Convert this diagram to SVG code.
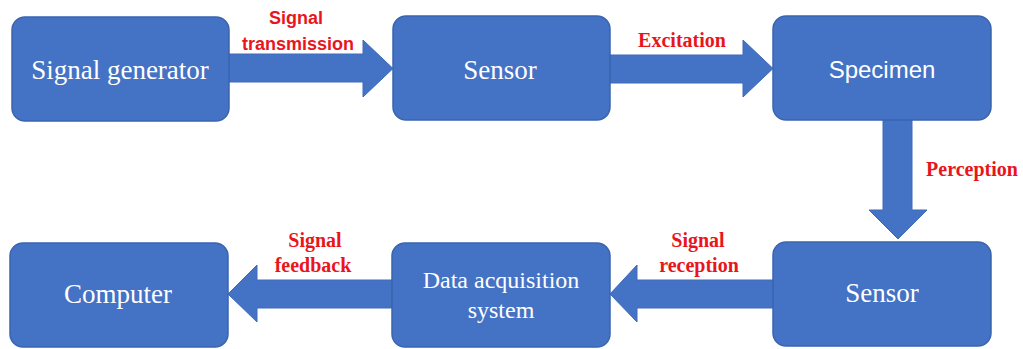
<svg xmlns="http://www.w3.org/2000/svg" width="1023" height="349" viewBox="0 0 1023 349">
<style>
.box{fill:#4472C4;stroke:#3A64B0;stroke-width:1.5}
.arr{fill:#4472C4;stroke:#3F6AB8;stroke-width:1}
.t{fill:#FFFFFF;font-family:"Liberation Serif","Times New Roman",serif;font-size:27px;text-anchor:middle}
.ts{fill:#FFFFFF;font-family:"Liberation Sans",Arial,sans-serif;font-size:24px;text-anchor:middle}
.lb{fill:#E8161C;font-family:"Liberation Serif","Times New Roman",serif;font-weight:bold;font-size:20px;text-anchor:middle}
.lbs{fill:#E8161C;font-family:"Liberation Sans",Arial,sans-serif;font-weight:bold;font-size:18px;text-anchor:middle}
</style>
<rect width="1023" height="349" fill="#FFFFFF"/>
<g id="connectors">
  <g id="c1"><path class="arr" d="M229,54 H363 V40 L393,68.5 L363,97 V82 H229 Z"/>
    <text class="lbs" x="296" y="24">Signal</text><text class="lbs" x="298" y="50">transmission</text></g>
  <g id="c2"><path class="arr" d="M610,55 H743 V40 L773,68.5 L743,97 V83 H610 Z"/>
    <text class="lb" x="682" y="47">Excitation</text></g>
  <g id="c3"><path class="arr" d="M883,120 H912 V210 H927 L898,239 L869,210 H883 Z"/>
    <text class="lb" x="972" y="176">Perception</text></g>
  <g id="c4"><path class="arr" d="M773,280 H637 V265 L610,294 L637,322 V308 H773 Z"/>
    <text class="lb" x="698" y="247">Signal</text><text class="lb" x="699" y="272">reception</text></g>
  <g id="c5"><path class="arr" d="M392,280 H257 V265 L228,294 L257,322 V308 H392 Z"/>
    <text class="lb" x="315" y="247">Signal</text><text class="lb" x="313" y="272">feedback</text></g>
</g>
<g id="signal-generator"><rect class="box" x="12" y="17" width="217" height="104" rx="13"/><text class="t" x="120" y="79">Signal generator</text></g>
<g id="sensor-top"><rect class="box" x="393" y="16" width="217" height="104" rx="13"/><text class="t" x="500" y="79">Sensor</text></g>
<g id="specimen"><rect class="box" x="773" y="16" width="218" height="104" rx="13"/><text class="ts" x="882" y="78">Specimen</text></g>
<g id="sensor-bottom"><rect class="box" x="773" y="242" width="218" height="104" rx="13"/><text class="t" x="882" y="302">Sensor</text></g>
<g id="data-acquisition"><rect class="box" x="392" y="243" width="218" height="104" rx="13"/><text class="t" x="501" y="288" style="font-size:24px">Data acquisition</text><text class="t" x="501" y="318" style="font-size:24px">system</text></g>
<g id="computer"><rect class="box" x="10" y="243" width="218" height="104" rx="13"/><text class="t" x="118" y="303">Computer</text></g>
</svg>
